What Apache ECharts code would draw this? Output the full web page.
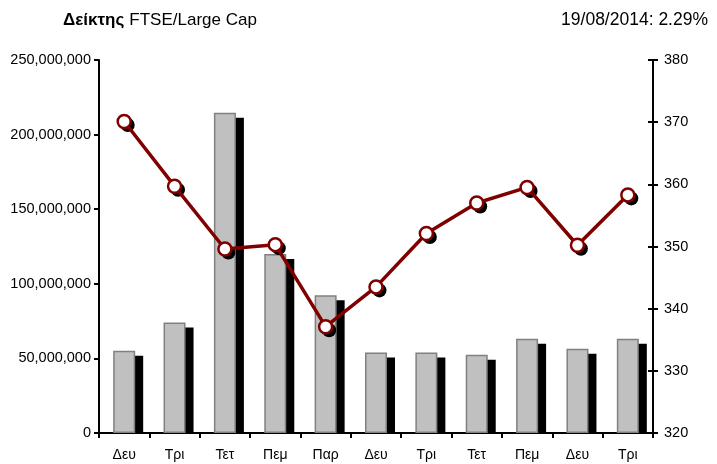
<!DOCTYPE html>
<html lang="el">
<head>
  <meta charset="UTF-8">
  <title>Δείκτης FTSE/Large Cap</title>
  <script src="https://cdn.jsdelivr.net/npm/echarts@6/dist/echarts.min.js"></script>
  <style>
    html, body { margin: 0; padding: 0; background: #fff; }
    #chart { width: 717px; height: 464px; }
  </style>
</head>
<body>
<div id="chart"></div>
<script>
  // ημέρες συνεδρίασης
  var days = ['Δευ', 'Τρι', 'Τετ', 'Πεμ', 'Παρ', 'Δευ', 'Τρι', 'Τετ', 'Πεμ', 'Δευ', 'Τρι'];
  // όγκος συναλλαγών (αριστερός άξονας)
  var volume = [55100000, 74100000, 214600000, 119900000, 92400000, 54000000, 54000000, 52400000, 63200000, 56500000, 63200000];
  // τιμή δείκτη (δεξιός άξονας)
  var indexValue = [370.1, 359.7, 349.6, 350.3, 337.1, 343.5, 352.1, 357.0, 359.5, 350.2, 358.3];

  var titleBold = 'Δείκτης';
  var titleRest = 'FTSE/Large Cap';
  var dateText = '19/08/2014: 2.29%';

  var font = 'Liberation Sans, Arial, sans-serif';
  var barW = 22;

  function withCommas(v) {
    return String(v).replace(/\B(?=(\d{3})+(?!\d))/g, ',');
  }

  // μαύρη σκιά πίσω από κάθε στήλη, μετατοπισμένη δεξιά και κάτω
  function renderShadow(params, api) {
    var top = api.coord([api.value(0), api.value(1)]);
    var base = api.coord([api.value(0), 0]);
    var y = top[1] + 5;
    return {
      type: 'rect',
      shape: { x: top[0] - barW / 2 + 8, y: y, width: barW, height: Math.max(base[1] - y, 0) },
      style: { fill: '#000' }
    };
  }

  var chart = echarts.init(document.getElementById('chart'));
  chart.setOption({
    animation: false,
    title: [{
      text: '{b|' + titleBold + '} {n|' + titleRest + '}',
      left: 58,
      top: 6,
      textStyle: {
        fontWeight: 'normal',
        rich: {
          b: { fontFamily: font, fontWeight: 'bold', fontSize: 17, color: '#000' },
          n: { fontFamily: font, fontWeight: 'normal', fontSize: 17, color: '#000' }
        }
      }
    }, {
      text: dateText,
      right: 4,
      top: 6,
      textStyle: { fontFamily: font, fontWeight: 'normal', fontSize: 17.5, color: '#000' }
    }],
    grid: { left: 99, right: 64, top: 60, bottom: 31 },
    xAxis: {
      type: 'category',
      data: days,
      boundaryGap: true,
      axisLine: { lineStyle: { color: '#000', width: 2 } },
      axisTick: { show: true, length: 5, lineStyle: { color: '#000', width: 2 } },
      axisLabel: { color: '#000', fontFamily: font, fontSize: 14, margin: 15 }
    },
    yAxis: [{
      type: 'value',
      min: 0,
      max: 250000000,
      interval: 50000000,
      position: 'left',
      splitLine: { show: false },
      axisLine: { show: true, lineStyle: { color: '#000', width: 2 } },
      axisTick: { show: true, length: 5, lineStyle: { color: '#000', width: 2 } },
      axisLabel: { color: '#000', fontFamily: font, fontSize: 14.5, margin: 8, formatter: withCommas }
    }, {
      type: 'value',
      min: 320,
      max: 380,
      interval: 10,
      position: 'right',
      splitLine: { show: false },
      axisLine: { show: true, lineStyle: { color: '#000', width: 2 } },
      axisTick: { show: true, length: 5, lineStyle: { color: '#000', width: 2 } },
      axisLabel: { color: '#000', fontFamily: font, fontSize: 14.5, margin: 11 }
    }, {
      // εσωτερικά τικ του δεξιού άξονα
      type: 'value',
      min: 320,
      max: 380,
      interval: 10,
      position: 'right',
      splitLine: { show: false },
      axisLine: { show: false },
      axisTick: { show: true, inside: true, length: 5, lineStyle: { color: '#000', width: 2 } },
      axisLabel: { show: false }
    }],
    series: [{
      type: 'custom',
      yAxisIndex: 0,
      data: volume.map(function (v, i) { return [i, v]; }),
      renderItem: renderShadow,
      silent: true,
      z: 1
    }, {
      type: 'bar',
      yAxisIndex: 0,
      data: volume,
      barWidth: barW,
      itemStyle: {
        color: '#c0c0c0',
        borderColor: '#808080',
        borderWidth: 1.5
      },
      z: 2
    }, {
      // σκιά σημείων
      type: 'line',
      yAxisIndex: 1,
      data: indexValue,
      symbol: 'circle',
      symbolSize: 14,
      symbolOffset: [3.5, 3.5],
      showSymbol: true,
      lineStyle: { opacity: 0 },
      itemStyle: { color: '#000' },
      silent: true,
      z: 3
    }, {
      type: 'line',
      yAxisIndex: 1,
      data: indexValue,
      symbol: 'circle',
      symbolSize: 13,
      lineStyle: { color: '#800000', width: 3.5 },
      itemStyle: {
        color: '#fff',
        borderColor: '#800000',
        borderWidth: 2.5
      },
      z: 5
    }]
  });
</script>
</body>
</html>
